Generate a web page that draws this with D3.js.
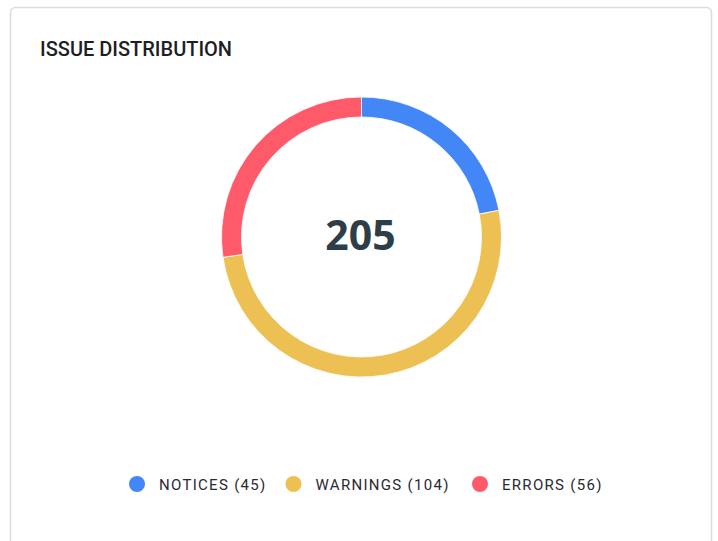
<!DOCTYPE html>
<html>
<head>
<meta charset="utf-8">
<script src="https://cdn.jsdelivr.net/npm/d3@7"></script>
<style>
  html, body { margin: 0; padding: 0; background: #fff; }
  svg { display: block; }
</style>
</head>
<body>
<div id="wrapper"></div>
<script>
const categories = ['NOTICES', 'WARNINGS', 'ERRORS'];
const counts = [45, 104, 56];
const colors = ['#4287f5', '#ecc053', '#ff5a6a'];
const title = 'ISSUE DISTRIBUTION';

function drawDonut() {
  const dimensions = {
    width: 718,
    height: 541,
    cx: 361.5,
    cy: 237,
    outer: 140,
    inner: 120,
  };

  const svg = d3
    .select('#wrapper')
    .append('svg')
    .attr('width', dimensions.width)
    .attr('height', dimensions.height);

  // Card
  svg
    .append('rect')
    .attr('x', 10.5)
    .attr('y', 7.5)
    .attr('width', 701)
    .attr('height', 560)
    .attr('rx', 5)
    .attr('fill', '#fff')
    .attr('stroke', '#dcdce8')
    .attr('stroke-width', 1.5);

  svg
    .append('text')
    .attr('x', 40)
    .attr('y', 55.5)
    .attr('fill', '#1e1e24')
    .style('font-family', 'Roboto, sans-serif')
    .style('font-weight', 500)
    .style('font-size', '20px')
    .text(title);

  // Donut
  const data = categories.map((c, i) => ({ name: c, value: counts[i], color: colors[i] }));
  const pie = d3.pie().sort(null).value((d) => d.value);
  const arc = d3.arc().innerRadius(dimensions.inner).outerRadius(dimensions.outer);

  const bounds = svg
    .append('g')
    .attr('transform', `translate(${dimensions.cx}, ${dimensions.cy})`);

  bounds
    .selectAll('path')
    .data(pie(data))
    .join('path')
    .attr('d', arc)
    .attr('fill', (d) => d.data.color)
    .attr('stroke', '#fff')
    .attr('stroke-width', 0.8);

  bounds
    .append('text')
    .attr('text-anchor', 'middle')
    .attr('x', -1)
    .attr('y', 12.5)
    .attr('fill', '#2e3e48')
    .style('font-family', '"Open Sans", sans-serif')
    .style('font-weight', 700)
    .style('font-size', '41px')
    .text(d3.sum(counts));

  // Legend
  const legendX = [137, 293.5, 480];
  const legend = svg
    .selectAll('.legend')
    .data(data)
    .join('g')
    .attr('class', 'legend')
    .attr('transform', (d, i) => `translate(${legendX[i]}, 484)`);

  legend
    .append('circle')
    .attr('r', 8)
    .attr('fill', (d) => d.color);

  legend
    .append('text')
    .attr('x', 22)
    .attr('y', 5.5)
    .attr('fill', '#2a2a33')
    .style('font-family', 'Roboto, sans-serif')
    .style('font-size', '15px')
    .style('letter-spacing', '1.3px')
    .text((d) => `${d.name} (${d.value})`);
}
drawDonut();
</script>
</body>
</html>
